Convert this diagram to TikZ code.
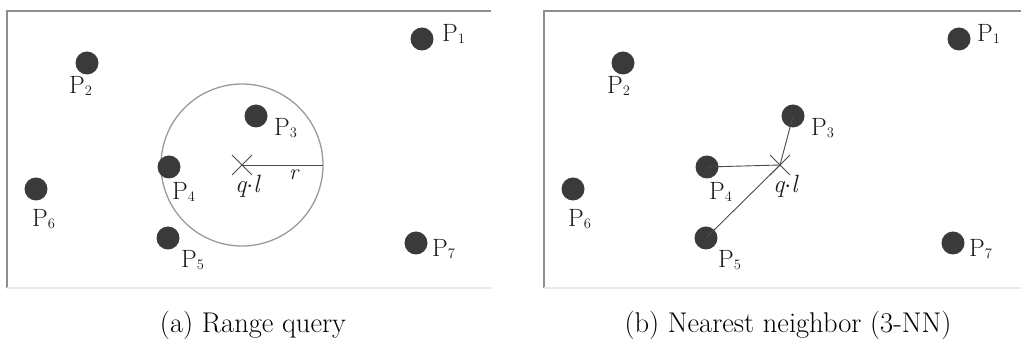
\documentclass[tikz,border=0pt]{standalone}
\definecolor{dotgray}{HTML}{3A3A3A}
\definecolor{framegray}{HTML}{8E8E8E}
\definecolor{framelight}{HTML}{E8E8E8}
\definecolor{circgray}{HTML}{9A9A9A}
\definecolor{linegray}{HTML}{4A4A4A}
\definecolor{txt}{HTML}{1A1A1A}
\newcommand{\plab}[1]{\rmfamily\fontsize{25}{28}\selectfont P\raisebox{-1.2pt}{\fontsize{14.5}{15}\selectfont #1}}
\tikzset{
  pdot/.style={circle, fill=dotgray, minimum size=23pt, inner sep=0pt},
  plabel/.style={anchor=base west, inner sep=0pt, text=txt},
  qlabel/.style={anchor=base west, inner sep=0pt, text=txt, font=\rmfamily\itshape\fontsize{25}{28}\selectfont},
  frametop/.style={draw=framegray, line width=1.4pt},
  framebot/.style={draw=framelight, line width=1.2pt},
  crossline/.style={draw=linegray, line width=0.9pt},
  nnline/.style={draw=linegray, line width=0.9pt},
  caption/.style={anchor=base, inner sep=0pt, font=\fontsize{28.5}{32}\selectfont}
}
\begin{document}
\begin{tikzpicture}[x=1pt,y=-1pt]
\useasboundingbox (0,0) rectangle (1021,344);
% frames
\coordinate (fa1) at (7,288); \coordinate (fa2) at (7,11); \coordinate (fa3) at (491,11); \coordinate (fa4) at (491,288);
\draw[frametop] (fa1) -- (fa2) -- (fa3);
\draw[framebot] (fa1) -- (fa4);
\coordinate (fb1) at (544,288); \coordinate (fb2) at (544,11); \coordinate (fb3) at (1021,11); \coordinate (fb4) at (1021,288);
\draw[frametop] (fb1) -- (fb2) -- (fb3);
\draw[framebot] (fb1) -- (fb4);

% ---------- panel (a)
\coordinate (qa) at (242,165);
\coordinate (ra) at (323,165);
\node[circle, draw=circgray, line width=1.3pt, minimum size=162pt, inner sep=0pt] (ca) at (qa) {};
\node[pdot] (a1) at (422,39) {};
\node[pdot] (a2) at (87,63) {};
\node[pdot] (a3) at (256,116) {};
\node[pdot] (a4) at (169,167) {};
\node[pdot] (a5) at (168,238) {};
\node[pdot] (a6) at (36,189) {};
\node[pdot] (a7) at (416,243) {};
\node[plabel] (la1) at (442,42) {\plab{1}};
\node[plabel] (la2) at (69,94) {\plab{2}};
\node[plabel] (la3) at (274,136) {\plab{3}};
\node[plabel] (la4) at (172,200) {\plab{4}};
\node[plabel] (la5) at (181,268) {\plab{5}};
\node[plabel] (la6) at (32,227) {\plab{6}};
\node[plabel] (la7) at (432,257) {\plab{7}};
\draw[crossline] (qa) ++(-10,-10) -- ++(20,20);
\draw[crossline] (qa) ++(-10,10) -- ++(20,-20);
\draw[nnline] (qa) -- (ra);
\node[qlabel] (qla) at (235,193) {q$\cdot$l};
\node[qlabel, font=\rmfamily\itshape\fontsize{22}{24}\selectfont] (rla) at (289,180) {r};

% ---------- panel (b)
\coordinate (qb) at (780,165);
\node[pdot] (b1) at (959,39) {};
\node[pdot] (b2) at (623,63) {};
\node[pdot] (b3) at (793,116) {};
\node[pdot] (b4) at (707,167) {};
\node[pdot] (b5) at (706,238) {};
\node[pdot] (b6) at (573,189) {};
\node[pdot] (b7) at (953,243) {};
\node[plabel] (lb1) at (977,42) {\plab{1}};
\node[plabel] (lb2) at (607,94) {\plab{2}};
\node[plabel] (lb3) at (811,136) {\plab{3}};
\node[plabel] (lb4) at (709,200) {\plab{4}};
\node[plabel] (lb5) at (718,268) {\plab{5}};
\node[plabel] (lb6) at (568,227) {\plab{6}};
\node[plabel] (lb7) at (969,257) {\plab{7}};
\draw[crossline] (qb) ++(-10,-10) -- ++(20,20);
\draw[crossline] (qb) ++(-10,10) -- ++(20,-20);
\draw[nnline] (b3.center) -- (qb);
\draw[nnline] (b4.center) -- (qb);
\draw[nnline] (b5.center) -- (qb);
\node[qlabel] (qlb) at (773,193) {q$\cdot$l};

% captions
\node[caption] (capa) at (253,333) {(a) Range query};
\node[caption] (capb) at (788,333) {(b) Nearest neighbor (3-NN)};
\end{tikzpicture}
\end{document}
